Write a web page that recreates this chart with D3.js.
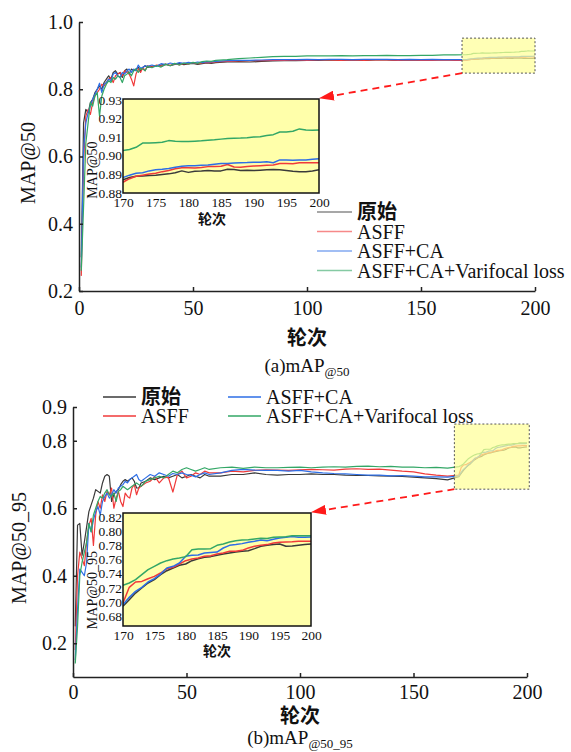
<!DOCTYPE html>
<html lang="zh">
<head>
<meta charset="utf-8">
<title>mAP curves</title>
<script src="https://d3js.org/d3.v7.min.js"></script>
<style>
  body { margin: 0; background: #fff; }
  text { font-family: "Liberation Serif", "Times New Roman", serif; fill: #111; }
  .cjk { font-family: "Noto Sans CJK SC", sans-serif; font-weight: 700; }
</style>
</head>
<body>
<script>
// epochs (dense where the curves are noisy / zoomed)
var epochs = [1,2,3,4,5,6,7,8,9,10,11,12,13,14,15,16,17,18,19,20,21,22,23,24,25,26,27,28,29,30,
  32,34,36,38,40,42,44,46,48,50,52,54,56,58,60,
  65,70,75,80,85,90,95,100,105,110,115,120,125,130,135,140,145,150,155,160,165,
  170,171,172,173,174,175,176,177,178,179,180,181,182,183,184,185,186,187,188,189,190,191,192,193,194,195,196,197,198,199,200];

var names = ["原始", "ASFF", "ASFF+CA", "ASFF+CA+Varifocal loss"];
var colors = ["#3a3a3a", "#f03a3a", "#2d6ee6", "#33a766"];

// (a) mAP@50
var base50 = [0.30,0.70,0.74,0.73,0.76,0.77,0.79,0.80,0.81,0.80,0.82,0.83,0.84,0.83,0.85,0.855,0.845,0.85,0.835,0.855,0.86,0.845,0.86,0.855,0.86,0.865,0.855,0.865,0.87,0.865,
  0.868,0.87,0.872,0.875,0.87,0.874,0.876,0.873,0.875,0.877,0.874,0.876,0.878,0.877,0.879,
  0.881,0.882,0.881,0.883,0.884,0.885,0.885,0.886,0.886,0.887,0.886,0.887,0.886,0.887,0.887,0.886,0.887,0.886,0.887,0.887,0.887,
  0.8870,0.8882,0.8889,0.8891,0.8893,0.8895,0.8899,0.8902,0.8908,0.8918,0.8910,0.8916,0.8917,0.8920,0.8917,0.8918,0.8927,0.8925,0.8920,0.8922,0.8920,0.8922,0.8924,0.8925,0.8924,0.8920,0.8916,0.8914,0.8914,0.8918,0.8924];
var asff50 = [0.245,0.58,0.72,0.74,0.725,0.76,0.78,0.79,0.80,0.815,0.81,0.82,0.83,0.835,0.82,0.84,0.845,0.85,0.84,0.855,0.85,0.845,0.83,0.81,0.845,0.86,0.85,0.865,0.855,0.87,
  0.866,0.872,0.868,0.874,0.871,0.876,0.872,0.877,0.875,0.879,0.876,0.878,0.88,0.879,0.881,
  0.883,0.884,0.885,0.885,0.886,0.886,0.887,0.886,0.887,0.887,0.886,0.887,0.886,0.888,0.887,0.886,0.887,0.886,0.886,0.887,0.886,
  0.8857,0.8876,0.8889,0.8895,0.8901,0.8905,0.8914,0.8920,0.8929,0.8935,0.8935,0.8933,0.8936,0.8941,0.8942,0.8943,0.8952,0.8939,0.8938,0.8942,0.8944,0.8946,0.8948,0.8950,0.8958,0.8958,0.8957,0.8962,0.8962,0.8962,0.8962];
var asffca50 = [0.27,0.62,0.70,0.73,0.75,0.77,0.785,0.80,0.818,0.79,0.815,0.82,0.83,0.825,0.845,0.85,0.84,0.835,0.85,0.845,0.855,0.86,0.85,0.86,0.855,0.872,0.862,0.865,0.87,0.868,
  0.872,0.868,0.876,0.873,0.878,0.875,0.879,0.877,0.88,0.878,0.881,0.879,0.882,0.881,0.883,
  0.885,0.886,0.886,0.887,0.888,0.888,0.888,0.889,0.888,0.889,0.889,0.888,0.889,0.889,0.889,0.888,0.889,0.888,0.889,0.888,0.888,
  0.8882,0.8895,0.8905,0.8908,0.8918,0.8924,0.8927,0.8931,0.8937,0.8943,0.8946,0.8946,0.8948,0.8950,0.8954,0.8958,0.8958,0.8960,0.8962,0.8963,0.8965,0.8965,0.8967,0.8962,0.8977,0.8977,0.8975,0.8977,0.8977,0.8981,0.8984];
var vfl50 = [0.26,0.45,0.64,0.70,0.76,0.75,0.78,0.79,0.72,0.78,0.80,0.815,0.825,0.82,0.835,0.83,0.84,0.835,0.82,0.84,0.845,0.85,0.84,0.855,0.86,0.85,0.862,0.86,0.855,0.868,
  0.864,0.87,0.866,0.874,0.87,0.877,0.872,0.878,0.875,0.88,0.877,0.882,0.884,0.883,0.886,
  0.888,0.891,0.893,0.895,0.897,0.898,0.898,0.899,0.899,0.899,0.9,0.899,0.9,0.9,0.901,0.9,0.9,0.901,0.901,0.902,0.902,
  0.9028,0.9033,0.9045,0.9068,0.9068,0.9070,0.9072,0.9081,0.9077,0.9076,0.9076,0.9078,0.9080,0.9083,0.9085,0.9089,0.9093,0.9094,0.9095,0.9097,0.9100,0.9102,0.9108,0.9113,0.9127,0.9128,0.9131,0.9144,0.9138,0.9137,0.9138];

// (b) mAP@50_95
var base5095 = [0.25,0.55,0.555,0.46,0.50,0.545,0.59,0.61,0.63,0.655,0.65,0.645,0.675,0.695,0.70,0.695,0.62,0.64,0.65,0.655,0.67,0.68,0.685,0.68,0.685,0.69,0.68,0.66,0.66,0.675,
  0.68,0.69,0.685,0.69,0.695,0.69,0.695,0.70,0.69,0.695,0.70,0.695,0.69,0.70,0.695,
  0.695,0.70,0.70,0.705,0.70,0.698,0.70,0.70,0.702,0.70,0.70,0.698,0.697,0.697,0.696,0.695,0.694,0.692,0.69,0.688,0.684,
  0.6937,0.7031,0.7125,0.7196,0.7267,0.7314,0.7385,0.7441,0.7479,0.7517,0.7536,0.7583,0.7611,0.7630,0.7640,0.7658,0.7677,0.7691,0.7705,0.7715,0.7724,0.7753,0.7786,0.7800,0.7810,0.7819,0.7786,0.7790,0.7800,0.7810,0.7819];
var asff5095 = [0.18,0.40,0.47,0.45,0.43,0.50,0.55,0.57,0.49,0.58,0.62,0.60,0.64,0.62,0.65,0.64,0.66,0.60,0.63,0.65,0.62,0.605,0.645,0.635,0.63,0.66,0.67,0.64,0.66,0.665,
  0.675,0.68,0.694,0.675,0.69,0.692,0.648,0.70,0.71,0.69,0.695,0.705,0.70,0.71,0.705,
  0.705,0.71,0.708,0.712,0.714,0.713,0.712,0.714,0.715,0.714,0.713,0.716,0.717,0.715,0.716,0.713,0.71,0.708,0.702,0.698,0.695,
  0.6984,0.7206,0.7281,0.7290,0.7328,0.7361,0.7408,0.7469,0.7489,0.7536,0.7583,0.7607,0.7620,0.7644,0.7653,0.7677,0.7691,0.7715,0.7715,0.7729,0.7762,0.7786,0.7800,0.7810,0.7833,0.7842,0.7847,0.7850,0.7857,0.7857,0.7857];
var asffca5095 = [0.15,0.30,0.42,0.41,0.40,0.44,0.555,0.53,0.565,0.59,0.605,0.58,0.62,0.635,0.645,0.63,0.64,0.655,0.645,0.66,0.665,0.67,0.68,0.675,0.685,0.69,0.695,0.70,0.685,0.68,
  0.69,0.70,0.695,0.705,0.70,0.695,0.703,0.70,0.705,0.70,0.698,0.693,0.70,0.705,0.70,
  0.705,0.712,0.715,0.713,0.712,0.712,0.71,0.712,0.708,0.705,0.703,0.702,0.70,0.698,0.698,0.696,0.697,0.695,0.693,0.693,0.692,
  0.6960,0.7064,0.7150,0.7206,0.7281,0.7328,0.7394,0.7479,0.7503,0.7550,0.7644,0.7658,0.7662,0.7691,0.7700,0.7705,0.7762,0.7800,0.7810,0.7824,0.7842,0.7857,0.7875,0.7866,0.7885,0.7904,0.7913,0.7923,0.7915,0.7915,0.7918];
var vfl5095 = [0.14,0.25,0.40,0.44,0.47,0.50,0.555,0.53,0.58,0.60,0.62,0.635,0.63,0.645,0.655,0.64,0.635,0.645,0.62,0.65,0.655,0.665,0.66,0.655,0.66,0.665,0.67,0.675,0.67,0.665,
  0.68,0.685,0.69,0.695,0.69,0.70,0.71,0.705,0.715,0.72,0.715,0.71,0.715,0.72,0.715,
  0.72,0.722,0.718,0.722,0.72,0.72,0.721,0.722,0.72,0.722,0.723,0.722,0.724,0.725,0.723,0.724,0.722,0.722,0.72,0.721,0.719,
  0.7234,0.7267,0.7314,0.7385,0.7456,0.7503,0.7550,0.7583,0.7607,0.7620,0.7640,0.7739,0.7748,0.7748,0.7753,0.7800,0.7819,0.7847,0.7866,0.7875,0.7880,0.7890,0.7900,0.7898,0.7913,0.7918,0.7920,0.7937,0.7937,0.7937,0.7937];

var xTicks = [0, 50, 100, 150, 200];
var yTicks50 = [0.2, 0.4, 0.6, 0.8, 1.0];
var yTicks5095 = [0.2, 0.4, 0.6, 0.8, 0.9];
var insetXTicks = [170, 175, 180, 185, 190, 195, 200];
var insetYTicks50 = [0.88, 0.89, 0.90, 0.91, 0.92, 0.93];
var insetYTicks5095 = [0.68, 0.70, 0.72, 0.74, 0.76, 0.78, 0.80, 0.82];

var svg = d3.select("body").append("svg")
    .attr("width", 571)
    .attr("height", 752);

svg.append("defs").append("marker")
    .attr("id", "arrow")
    .attr("markerUnits", "userSpaceOnUse")
    .attr("markerWidth", 15).attr("markerHeight", 10)
    .attr("refX", 14).attr("refY", 5)
    .attr("orient", "auto")
  .append("path")
    .attr("d", "M0,0 L15,5 L0,10 Z")
    .attr("fill", "#ff1a1a");

function drawPanel(p, id) {
  var x = d3.scaleLinear().domain([0, 200]).range([p.left, p.right]);
  var y = d3.scaleLinear().domain(p.yDomain).range([p.bottom, p.top]);
  var g = svg.append("g");

  var line = d3.line()
      .x(function(d, i) { return x(epochs[i]); })
      .y(function(d) { return y(d); });

  p.series.forEach(function(s, i) {
    g.append("path")
        .attr("d", line(s))
        .attr("fill", "none")
        .attr("stroke", colors[i])
        .attr("stroke-width", 1.2)
        .attr("stroke-linejoin", "round");
  });

  // axes (open box, inward ticks)
  var yAxis = d3.axisLeft(y).tickValues(p.yTicks).tickFormat(d3.format(".1f"))
      .tickSize(-4).tickSizeOuter(0).tickPadding(6);
  var xAxis = d3.axisBottom(x).tickValues(xTicks)
      .tickSize(-4).tickSizeOuter(0).tickPadding(p.xPad);

  var ga = g.append("g").attr("transform", "translate(" + p.left + ",0)").call(yAxis);
  var gb = g.append("g").attr("transform", "translate(0," + p.bottom + ")").call(xAxis);
  [ga, gb].forEach(function(a) {
    a.selectAll("path, line").attr("stroke", "#222").attr("stroke-width", 1.5);
    a.selectAll("text").attr("font-size", 20).attr("font-family", "Liberation Serif").attr("fill", "#111");
  });

  // axis titles
  g.append("text")
      .attr("transform", "translate(" + p.yTitleX + "," + p.yTitleY + ") rotate(-90)")
      .attr("text-anchor", "middle")
      .attr("font-size", 20)
      .text(p.yTitle);
  g.append("text")
      .attr("class", "cjk")
      .attr("x", (p.left + p.right) / 2)
      .attr("y", p.xTitleY)
      .attr("text-anchor", "middle")
      .attr("font-size", 20)
      .text("轮次");

  // caption
  var cap = g.append("text")
      .attr("x", (p.left + p.right) / 2)
      .attr("y", p.captionY)
      .attr("text-anchor", "middle")
      .attr("font-size", 19);
  cap.append("tspan").text(p.caption[0]);
  cap.append("tspan").attr("font-size", 13).attr("dy", 4).text(p.caption[1]);

  // highlighted zoom window
  var zw = p.zoom;
  g.append("rect")
      .attr("x", x(zw.x0))
      .attr("y", y(zw.y1))
      .attr("width", x(zw.x1) - x(zw.x0))
      .attr("height", y(zw.y0) - y(zw.y1))
      .attr("fill", "#ffff99")
      .attr("fill-opacity", 0.72)
      .attr("stroke", "#555")
      .attr("stroke-width", 1)
      .attr("stroke-dasharray", "2,2");

  // inset
  var ins = p.inset;
  var ix = d3.scaleLinear().domain([170, 200]).range([ins.left, ins.right]);
  var iy = d3.scaleLinear().domain(ins.yDomain).range([ins.bottom, ins.top]);

  g.append("line")
      .attr("x1", x(zw.x0)).attr("y1", y(zw.y0))
      .attr("x2", ins.right + 1).attr("y2", ins.top - 1)
      .attr("stroke", "#ff1a1a")
      .attr("stroke-width", 1.8)
      .attr("stroke-dasharray", "7,5")
      .attr("marker-end", "url(#arrow)");

  g.append("rect")
      .attr("x", ins.left).attr("y", ins.top)
      .attr("width", ins.right - ins.left).attr("height", ins.bottom - ins.top)
      .attr("fill", "#ffffaa");

  g.append("clipPath").attr("id", "clip" + id)
    .append("rect")
      .attr("x", ins.left).attr("y", ins.top)
      .attr("width", ins.right - ins.left).attr("height", ins.bottom - ins.top);

  var iline = d3.line()
      .defined(function(d, i) { return epochs[i] >= 170; })
      .x(function(d, i) { return ix(epochs[i]); })
      .y(function(d) { return iy(d); });

  var gi = g.append("g").attr("clip-path", "url(#clip" + id + ")");
  p.series.forEach(function(s, i) {
    gi.append("path")
        .attr("d", iline(s))
        .attr("fill", "none")
        .attr("stroke", colors[i])
        .attr("stroke-width", 1.5)
        .attr("stroke-linejoin", "round");
  });

  g.append("rect")
      .attr("x", ins.left).attr("y", ins.top)
      .attr("width", ins.right - ins.left).attr("height", ins.bottom - ins.top)
      .attr("fill", "none")
      .attr("stroke", "#111")
      .attr("stroke-width", 1.5);

  var iya = g.append("g").attr("transform", "translate(" + ins.left + ",0)")
      .call(d3.axisLeft(iy).tickValues(ins.yTicks).tickFormat(d3.format(".2f")).tickSize(0).tickPadding(1));
  var ixa = g.append("g").attr("transform", "translate(0," + ins.bottom + ")")
      .call(d3.axisBottom(ix).tickValues(insetXTicks).tickFormat(d3.format("d")).tickSize(0).tickPadding(4));
  [iya, ixa].forEach(function(a) {
    a.select(".domain").remove();
    a.selectAll("text").attr("font-size", 13.5).attr("font-family", "Liberation Serif").attr("fill", "#111");
  });

  g.append("text")
      .attr("transform", "translate(" + ins.yTitleX + "," + ins.yTitleY + ") rotate(-90)")
      .attr("text-anchor", "middle")
      .attr("font-size", 14)
      .text(p.yTitle);
  g.append("text")
      .attr("class", "cjk")
      .attr("x", ins.xTitleX)
      .attr("y", ins.xTitleY)
      .attr("text-anchor", "middle")
      .attr("font-size", 14)
      .text("轮次");

  // legend
  p.legend.forEach(function(pos, i) {
    g.append("line")
        .attr("x1", pos[0]).attr("x2", pos[0] + p.legendLen)
        .attr("y1", pos[1]).attr("y2", pos[1])
        .attr("stroke", colors[i])
        .attr("stroke-width", 1.5)
        .attr("stroke-opacity", p.legendOpacity);
    g.append("text")
        .attr("class", i === 0 ? "cjk" : null)
        .attr("x", pos[0] + p.legendLen + 5)
        .attr("y", pos[1] + 7)
        .attr("font-size", 20)
        .text(names[i]);
  });
}

drawPanel({
  series: [base50, asff50, asffca50, vfl50],
  left: 79, right: 535, top: 22, bottom: 291,
  yDomain: [0.2, 1.0], yTicks: yTicks50, xPad: 10,
  yTitle: "MAP@50", yTitleX: 35, yTitleY: 163,
  xTitleY: 345,
  caption: ["(a)mAP", "@50"], captionY: 372,
  zoom: {x0: 168, x1: 200, y0: 0.848, y1: 0.952},
  inset: {left: 123, right: 319, top: 99, bottom: 193,
          yDomain: [0.8799, 0.9305], yTicks: insetYTicks50,
          yTitleX: 97, yTitleY: 170, xTitleX: 212, xTitleY: 224},
  legend: [[317, 212], [317, 231.5], [317, 251], [317, 270.5]],
  legendLen: 35, legendOpacity: 0.6
}, "a");

drawPanel({
  series: [base5095, asff5095, asffca5095, vfl5095],
  left: 73, right: 527, top: 407, bottom: 677,
  yDomain: [0.1, 0.9], yTicks: yTicks5095, xPad: 8,
  yTitle: "MAP@50_95", yTitleX: 26, yTitleY: 548,
  xTitleY: 723,
  caption: ["(b)mAP", "@50_95"], captionY: 744,
  zoom: {x0: 168, x1: 201, y0: 0.6565, y1: 0.8495},
  inset: {left: 123, right: 311, top: 513, bottom: 626,
          yDomain: [0.6659, 0.8257], yTicks: insetYTicks5095,
          yTitleX: 97, yTitleY: 590, xTitleX: 217, xTitleY: 656},
  legend: [[103, 397], [103, 416], [228, 397], [228, 416]],
  legendLen: 33, legendOpacity: 1
}, "b");
</script>
</body>
</html>
